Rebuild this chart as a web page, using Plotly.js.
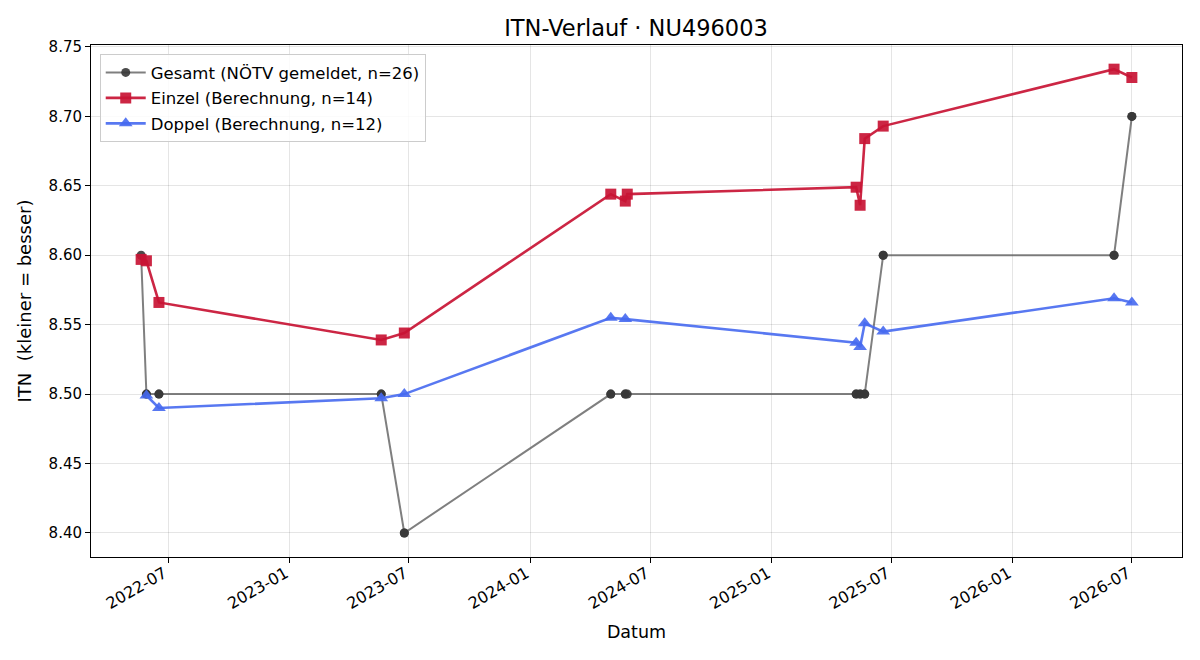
<!DOCTYPE html>
<html><head><meta charset="utf-8">
<script src="https://cdn.plot.ly/plotly-3.0.1.min.js"></script>
<style>body{margin:0;background:#fff}#c{width:1200px;height:660px}</style>
</head><body><div id="c"></div>
<script>
const gesamtDates = ["2022-05-21","2022-05-29","2022-05-29","2022-06-17","2022-06-17","2023-05-20","2023-05-20","2023-06-24","2023-06-24","2024-05-02","2024-05-02","2024-05-24","2024-05-24","2024-05-27","2025-05-09","2025-05-09","2025-05-15","2025-05-15","2025-05-22","2025-05-22","2025-06-19","2025-06-19","2026-06-04","2026-06-04","2026-07-01","2026-07-01"];
const gesamtValues = [8.60,8.50,8.50,8.50,8.50,8.50,8.50,8.40,8.40,8.50,8.50,8.50,8.50,8.50,8.50,8.50,8.50,8.50,8.50,8.50,8.60,8.60,8.60,8.60,8.70,8.70];
const einzelDates = ["2022-05-21","2022-05-29","2022-06-17","2023-05-20","2023-06-24","2024-05-02","2024-05-24","2024-05-27","2025-05-09","2025-05-15","2025-05-22","2025-06-19","2026-06-04","2026-07-01"];
const einzelValues = [8.597,8.596,8.566,8.539,8.544,8.644,8.639,8.644,8.649,8.636,8.684,8.693,8.734,8.728];
const doppelDates = ["2022-05-29","2022-06-17","2023-05-20","2023-06-24","2024-05-02","2024-05-24","2025-05-09","2025-05-15","2025-05-22","2025-06-19","2026-06-04","2026-07-01"];
const doppelValues = [8.499,8.490,8.497,8.500,8.555,8.554,8.537,8.534,8.551,8.545,8.569,8.566];
const xTicks = ["2022-07-01","2023-01-01","2023-07-01","2024-01-01","2024-07-01","2025-01-01","2025-07-01","2026-01-01","2026-07-01"];
const xTickLabels = ["2022-07","2023-01","2023-07","2024-01","2024-07","2025-01","2025-07","2026-01","2026-07"];
const yTicks = [8.40,8.45,8.50,8.55,8.60,8.65,8.70,8.75];

const F = "DejaVu Sans, sans-serif";
const traces = [
  {x: gesamtDates, y: gesamtValues, name: "Gesamt (NÖTV gemeldet, n=26)", mode: "lines+markers", type: "scatter", legendgroup: "g",
   line: {color: "rgba(95,95,95,0.8)", width: 2}, marker: {symbol: "circle", size: 9, color: "rgba(55,55,55,0.9)"}},
  {x: einzelDates, y: einzelValues, name: "Einzel (Berechnung, n=14)", mode: "lines+markers", type: "scatter", legendgroup: "e",
   line: {color: "rgba(200,20,52,0.92)", width: 2.6}, marker: {symbol: "square", size: 11, color: "rgba(200,20,52,0.92)"}},
  {x: doppelDates, y: doppelValues, name: "Doppel (Berechnung, n=12)", mode: "lines+markers", type: "scatter", legendgroup: "d",
   line: {color: "rgba(70,105,240,0.9)", width: 2.6}, marker: {symbol: "triangle-up", size: 12, color: "rgba(70,105,240,0.9)"}}
];
const layout = {
  width: 1200, height: 660,
  margin: {l: 91, r: 18, t: 45, b: 103},
  paper_bgcolor: "#fff", plot_bgcolor: "#fff",
  font: {family: F, color: "#000", size: 14},
  title: {text: "ITN-Verlauf · NU496003", font: {family: F, size: 22.5, color: "#000"}, x: 0.53, xanchor: "center", y: 0.957, yanchor: "middle"},
  showlegend: true,
  legend: {x: 0.008, y: 0.982, xanchor: "left", yanchor: "top", bgcolor: "rgba(255,255,255,0.85)", bordercolor: "#cccccc", borderwidth: 1,
           font: {family: F, size: 16.5}, tracegroupgap: 1, itemwidth: 40},
  xaxis: {type: "date", range: ["2022-03-06", "2026-09-15"], tickvals: xTicks, ticktext: xTickLabels, tickangle: -30,
          showgrid: true, gridcolor: "rgba(0,0,0,0.1)", gridwidth: 1, zeroline: false,
          showline: true, linecolor: "#000", linewidth: 1, mirror: true, ticks: "outside", ticklen: 5, tickcolor: "#000",
          ticklabelstandoff: -5, ticklabelshift: -4,
          tickfont: {family: F, size: 16}, title: {text: "Datum", font: {family: F, size: 17.5}, standoff: 13}},
  yaxis: {range: [8.3827, 8.7514], tickvals: yTicks, tickformat: ".2f",
          showgrid: true, gridcolor: "rgba(0,0,0,0.1)", gridwidth: 1, zeroline: false,
          showline: true, linecolor: "#000", linewidth: 1, mirror: true, ticks: "outside", ticklen: 5, tickcolor: "#000",
          tickfont: {family: F, size: 15}, title: {text: "ITN\u00a0 (kleiner = besser)", font: {family: F, size: 18}, standoff: 12}}
};
Plotly.newPlot("c", traces, layout, {displayModeBar: false, staticPlot: true});
</script></body></html>
